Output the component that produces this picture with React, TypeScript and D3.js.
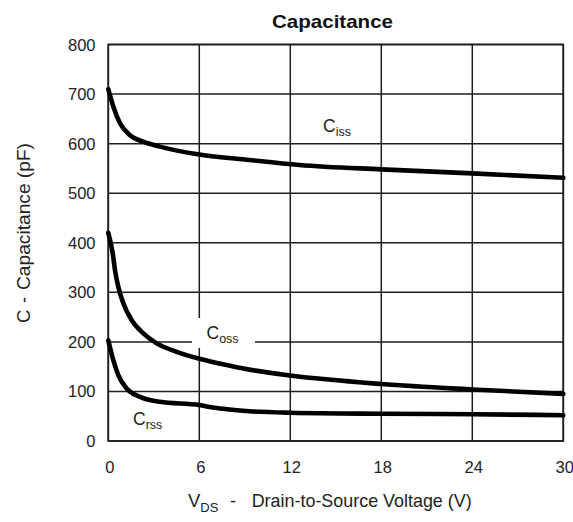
import React from "react";
import * as d3 from "d3";

const xTicks = [0, 6, 12, 18, 24, 30];
const yTicks = [0, 100, 200, 300, 400, 500, 600, 700, 800];

const cissV = [0, 0.33, 0.77, 1.43, 2.3, 3.4, 6, 9.3, 12.6, 18, 24, 30];
const cissC = [710, 675, 641, 617, 604, 594, 578, 567, 557, 548, 540, 531];

const cossV = [0, 0.29, 0.44, 0.66, 0.99, 1.54, 2.31, 3.19, 4.5, 6, 7.4, 9.3, 12, 18, 24, 30];
const cossC = [420, 379, 345, 311, 278, 244, 217, 197, 180, 166, 156, 144, 132, 115, 104, 95];

const crssV = [0, 0.33, 0.66, 1.21, 2.1, 3.4, 6, 7, 8, 9.3, 12, 18, 24, 30];
const crssC = [203, 163, 133, 106, 89, 79, 72.5, 67, 63.5, 60, 57, 55, 54, 52];

const W = 573, H = 522;
const L = 108.3, R = 563.3, T = 44.5, B = 441;

export default function App() {
  const x = d3.scaleLinear().domain([0, 30]).range([L, R]);
  const y = d3.scaleLinear().domain([0, 800]).range([B, T]);
  const line = d3.line<[number, number]>().x(d => x(d[0])).y(d => y(d[1])).curve(d3.curveMonotoneX);
  const series = [
    cissV.map((v, i) => [v, cissC[i]] as [number, number]),
    cossV.map((v, i) => [v, cossC[i]] as [number, number]),
    crssV.map((v, i) => [v, crssC[i]] as [number, number]),
  ];
  const font = "'Liberation Sans', Arial, sans-serif";
  const ink = "#222";
  const lab = (base: string, sub: string, px: number, py: number) => (
    <text x={px} y={py} fontFamily={font} fontSize={17.5} fill={ink}>
      {base}
      <tspan fontSize={12.5} dy={4}>{sub}</tspan>
    </text>
  );
  return (
    <svg width={W} height={H} style={{ position: "absolute", left: 0, top: 0, background: "#fff" }}>
      <rect x={0} y={0} width={W} height={H} fill="#fff" />
      {xTicks.map(t => (
        <line key={"gx" + t} x1={x(t)} x2={x(t)} y1={T} y2={B} stroke="#1e1e1e" strokeWidth={1.5} />
      ))}
      {yTicks.map(t => (
        <line key={"gy" + t} x1={L} x2={R} y1={y(t)} y2={y(t)} stroke="#1e1e1e" strokeWidth={1.5} />
      ))}
      <rect x={L} y={T} width={R - L} height={B - T} fill="none" stroke="#1e1e1e" strokeWidth={1.7} />
      <rect x={192} y={318} width={63} height={30} fill="#fff" />
      {series.map((s, i) => (
        <path key={i} d={line(s) || ""} fill="none" stroke="#000" strokeWidth={4.6} strokeLinecap="round" strokeLinejoin="round" />
      ))}
      {lab("C", "iss", 323, 132)}
      {lab("C", "oss", 206.5, 339)}
      {lab("C", "rss", 133, 425)}
      {yTicks.map(t => (
        <text key={"ty" + t} x={95.5} y={y(t) + 6} textAnchor="end" fontFamily={font} fontSize={16.5} fill={ink}>{t}</text>
      ))}
      {xTicks.map(t => (
        <text key={"tx" + t} x={x(t) + 1.5} y={473} textAnchor="middle" fontFamily={font} fontSize={16.5} fill={ink}>{t}</text>
      ))}
      <text x={332.5} y={28} textAnchor="middle" fontFamily={font} fontSize={19} fontWeight="bold" fill="#111" textLength={121} lengthAdjust="spacingAndGlyphs">Capacitance</text>
      <text x={188} y={507} fontFamily={font} fontSize={18.5} fill={ink}>
        V<tspan fontSize={13} dy={5}>DS</tspan>
      </text>
      <text x={230} y={507} fontFamily={font} fontSize={18.5} fill={ink}>-</text>
      <text x={251.7} y={507} fontFamily={font} fontSize={18.5} fill={ink} textLength={220} lengthAdjust="spacingAndGlyphs">Drain-to-Source Voltage (V)</text>
      <g transform="translate(30, 0) rotate(-90)">
        <text x={-323} y={0} fontFamily={font} fontSize={18.5} fill={ink}>C</text>
        <text x={-303} y={0} fontFamily={font} fontSize={18.5} fill={ink}>-</text>
        <text x={-290} y={0} fontFamily={font} fontSize={18.5} fill={ink} textLength={147} lengthAdjust="spacingAndGlyphs">Capacitance (pF)</text>
      </g>
    </svg>
  );
}
